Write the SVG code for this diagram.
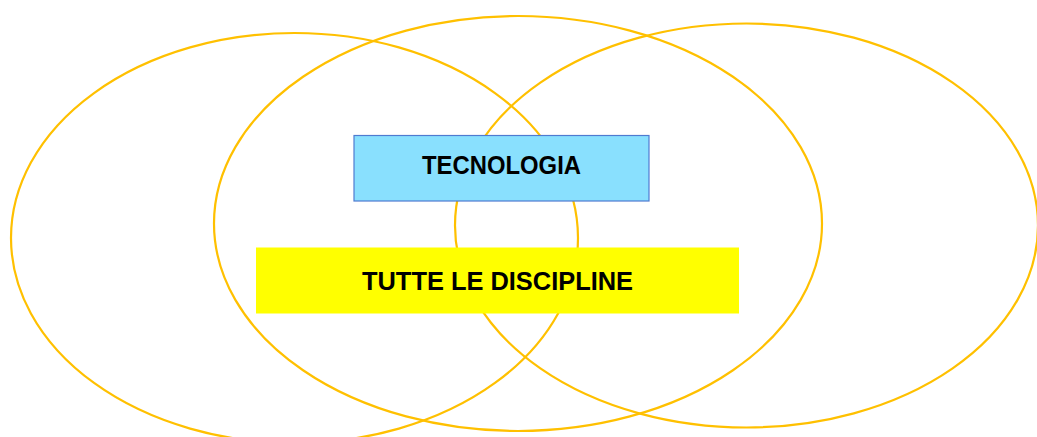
<svg xmlns="http://www.w3.org/2000/svg" width="1037" height="437" viewBox="0 0 1037 437">
<style>
.ring{fill:none;stroke:#FFC000;stroke-width:2.2}
.lbl{font-family:"Liberation Sans",Arial,sans-serif;font-weight:bold;font-size:26px;fill:#000;text-anchor:middle}
</style>
<rect width="1037" height="437" fill="#fff"/>
<g id="connectors"></g>
<g id="ellipses">
<ellipse id="ring-left" class="ring" cx="294.5" cy="238" rx="283.5" ry="205"/>
<ellipse id="ring-center" class="ring" cx="518" cy="223.5" rx="304" ry="207.5"/>
<ellipse id="ring-right" class="ring" cx="746.5" cy="225.5" rx="291.5" ry="202"/>
</g>
<g id="node-tecnologia">
<rect x="354" y="135.5" width="295" height="65.5" fill="#89E0FE" stroke="#4F7BD0" stroke-width="1.2"/>
<text class="lbl" x="501.5" y="174" textLength="159" lengthAdjust="spacingAndGlyphs">TECNOLOGIA</text>
</g>
<g id="node-discipline">
<rect x="256" y="247.5" width="483" height="66" fill="#FFFF00"/>
<text class="lbl" x="497.5" y="289.5" textLength="271" lengthAdjust="spacingAndGlyphs">TUTTE LE DISCIPLINE</text>
</g>
</svg>
